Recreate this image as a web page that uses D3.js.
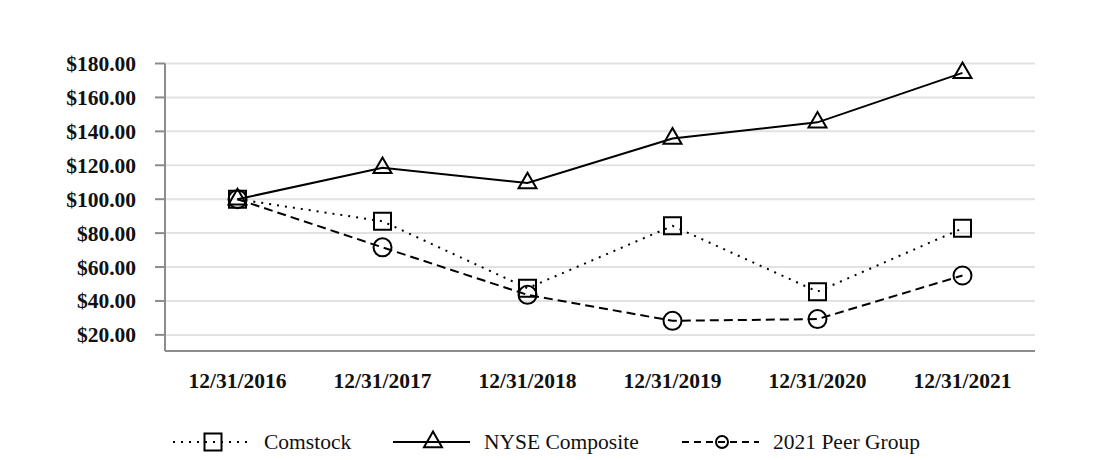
<!DOCTYPE html>
<html>
<head>
  <meta charset="utf-8">
  <title>Cumulative Return Chart</title>
  <script src="https://d3js.org/d3.v7.min.js"></script>
  <style>
    html, body {
      margin: 0;
      padding: 0;
      background: #fff;
    }
    .tick-label {
      font: bold 21.5px "Liberation Serif", "Times New Roman", serif;
      fill: #111;
    }
    .legend-label {
      font: 21.5px "Liberation Serif", "Times New Roman", serif;
      fill: #111;
    }
    .grid {
      stroke: #e2e2e2;
      stroke-width: 2;
    }
    .axis-line {
      stroke: #8c8c8c;
      stroke-width: 2;
      fill: none;
    }
  </style>
</head>
<body>
  <svg id="chart" width="1100" height="460"></svg>

  <script>
    // data
    const years = ["12/31/2016", "12/31/2017", "12/31/2018", "12/31/2019", "12/31/2020", "12/31/2021"];
    const comstock = [100, 87, 47.5, 84.3, 45.5, 82.8];
    const nyse = [100, 118.5, 109.5, 135.8, 145.3, 174.5];
    const peer = [100, 71.6, 43.6, 28.3, 29.3, 55];
    const yTicks = [20, 40, 60, 80, 100, 120, 140, 160, 180];

    const series = [
      { name: "Comstock", values: comstock, dash: "2,6", legendDash: "2,6", marker: "square" },
      { name: "NYSE Composite", values: nyse, dash: null, legendDash: null, marker: "triangle" },
      { name: "2021 Peer Group", values: peer, dash: "9,5", legendDash: "7,5", marker: "circle" }
    ];

    const plotLeft = 165, plotRight = 1035, plotTop = 63.5, plotBottom = 351;

    const x = d3.scaleBand().domain(years).range([plotLeft, plotRight]);
    const y = d3.scaleLinear().domain([10.5, 180]).range([plotBottom, plotTop]);

    const svg = d3.select("#chart");

    // gridlines + y ticks
    svg.selectAll("line.grid")
      .data(yTicks)
      .join("line")
      .attr("class", "grid")
      .attr("x1", plotLeft).attr("x2", plotRight)
      .attr("y1", d => y(d)).attr("y2", d => y(d));

    svg.selectAll("line.ytick")
      .data(yTicks)
      .join("line")
      .attr("class", "axis-line ytick")
      .attr("x1", plotLeft - 10).attr("x2", plotLeft)
      .attr("y1", d => y(d)).attr("y2", d => y(d));

    svg.selectAll("text.ylab")
      .data(yTicks)
      .join("text")
      .attr("class", "tick-label ylab")
      .attr("x", 136)
      .attr("y", d => y(d) + 7.5)
      .attr("text-anchor", "end")
      .text(d => "$" + d.toFixed(2));

    // axes lines
    svg.append("line").attr("class", "axis-line")
      .attr("x1", plotLeft).attr("x2", plotLeft).attr("y1", plotTop).attr("y2", plotBottom);
    svg.append("line").attr("class", "axis-line")
      .attr("x1", plotLeft).attr("x2", plotRight).attr("y1", plotBottom).attr("y2", plotBottom);

    svg.selectAll("text.xlab")
      .data(years)
      .join("text")
      .attr("class", "tick-label xlab")
      .attr("x", d => x(d) + x.bandwidth() / 2)
      .attr("y", 388)
      .attr("text-anchor", "middle")
      .text(d => d);

    // markers
    function drawMarker(g, type, cx, cy, small) {
      if (type === "circle") {
        g.append("circle")
          .attr("cx", cx).attr("cy", cy)
          .attr("r", small ? 6 : 9)
          .attr("fill", "none").attr("stroke", "#000").attr("stroke-width", 2);
      } else {
        const sym = type === "square" ? d3.symbolSquare : d3.symbolTriangle;
        const size = type === "square" ? 289 : 140;
        g.append("path")
          .attr("d", d3.symbol().type(sym).size(size)())
          .attr("transform", "translate(" + cx + "," + cy + ")")
          .attr("fill", "none").attr("stroke", "#000").attr("stroke-width", 2);
      }
    }

    const line = d3.line()
      .x((d, i) => x(years[i]) + x.bandwidth() / 2)
      .y(d => y(d));

    series.forEach(s => {
      svg.append("path")
        .attr("d", line(s.values))
        .attr("fill", "none")
        .attr("stroke", "#000")
        .attr("stroke-width", 2)
        .attr("stroke-dasharray", s.dash);
      const g = svg.append("g");
      s.values.forEach((v, i) => {
        drawMarker(g, s.marker, x(years[i]) + x.bandwidth() / 2, y(v), false);
      });
    });

    // legend
    const legendX = [173, 393, 682];
    const legendY = 442;
    series.forEach((s, i) => {
      const lx = legendX[i];
      const g = svg.append("g");
      g.append("line")
        .attr("x1", lx).attr("x2", lx + 77)
        .attr("y1", legendY).attr("y2", legendY)
        .attr("stroke", "#000").attr("stroke-width", 2)
        .attr("stroke-dasharray", s.legendDash);
      drawMarker(g, s.marker, lx + 40, legendY, true);
      g.append("text")
        .attr("class", "legend-label")
        .attr("x", lx + 91)
        .attr("y", legendY + 7)
        .text(s.name);
    });
  </script>
</body>
</html>
